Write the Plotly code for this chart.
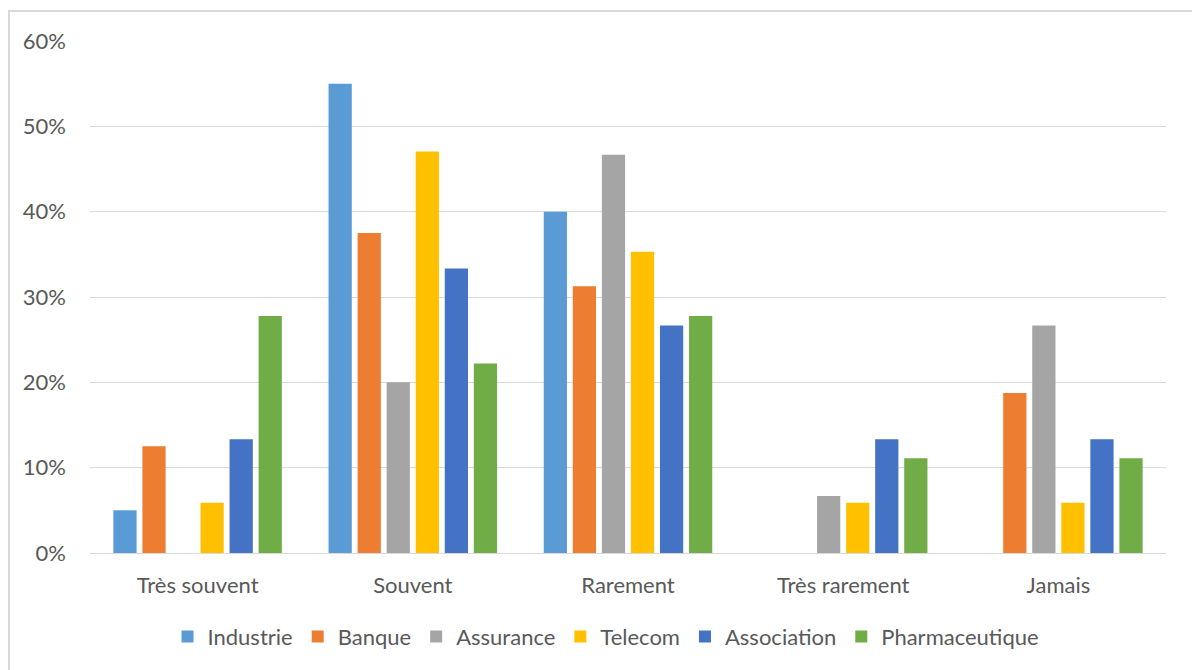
import plotly.graph_objects as go

categories = ["Très souvent", "Souvent", "Rarement", "Très rarement", "Jamais"]

industrie = [0.05, 0.55, 0.40, 0.0, 0.0]
banque = [0.125, 0.375, 0.3125, 0.0, 0.1875]
assurance = [0.0, 0.20, 0.4667, 0.0667, 0.2667]
telecom = [0.0588, 0.4706, 0.3529, 0.0588, 0.0588]
association = [0.1333, 0.3333, 0.2667, 0.1333, 0.1333]
pharmaceutique = [0.2778, 0.2222, 0.2778, 0.1111, 0.1111]

series = [
    ("Industrie", industrie, "#5B9BD5"),
    ("Banque", banque, "#ED7D31"),
    ("Assurance", assurance, "#A5A5A5"),
    ("Telecom", telecom, "#FFC000"),
    ("Association", association, "#4472C4"),
    ("Pharmaceutique", pharmaceutique, "#70AD47"),
]

FONT = "Lato"
FS = 22
TXT = "#595959"
GRID = "#D9D9D9"

fig = go.Figure()
for name, vals, color in series:
    fig.add_trace(go.Bar(x=categories, y=vals, name=name, marker_color=color,
                         marker_line_width=0))

W, H = 1192, 670
ml, mr, mt, mb = 90, 26, 41, 115
pw, ph = W - ml - mr, H - mt - mb

fig.update_layout(
    width=W, height=H,
    margin=dict(l=ml, r=mr, t=mt, b=mb, pad=0),
    paper_bgcolor="white", plot_bgcolor="white",
    barmode="group", bargap=0.19, bargroupgap=0.2,
    font=dict(family=FONT, size=FS, color=TXT),
    showlegend=True,
    legend=dict(orientation="h", x=(606 - ml) / pw, xanchor="center",
                y=-(639 - (mt + ph)) / ph, yanchor="middle",
                font=dict(family=FONT, size=FS, color=TXT),
                traceorder="normal"),
    xaxis=dict(showgrid=False, showline=True, linecolor=GRID, linewidth=1,
               ticks="", tickfont=dict(family=FONT, size=FS, color=TXT),
               ticklabelstandoff=13),
    yaxis=dict(range=[0, 0.6], dtick=0.1, tickformat=".0%", showgrid=True,
               gridcolor=GRID, gridwidth=1, zeroline=False, showline=False,
               ticks="", tickfont=dict(family=FONT, size=FS, color=TXT),
               ticklabelstandoff=23),
    shapes=[dict(type="rect", xref="paper", yref="paper",
                 x0=(9 - ml) / pw, x1=(W + 20 - ml) / pw,
                 y0=-(H + 20 - (mt + ph)) / ph, y1=((mt + ph) - 11) / ph,
                 line=dict(color=GRID, width=2), fillcolor="rgba(0,0,0,0)",
                 layer="below")],
)

fig.write_html("out.html")
